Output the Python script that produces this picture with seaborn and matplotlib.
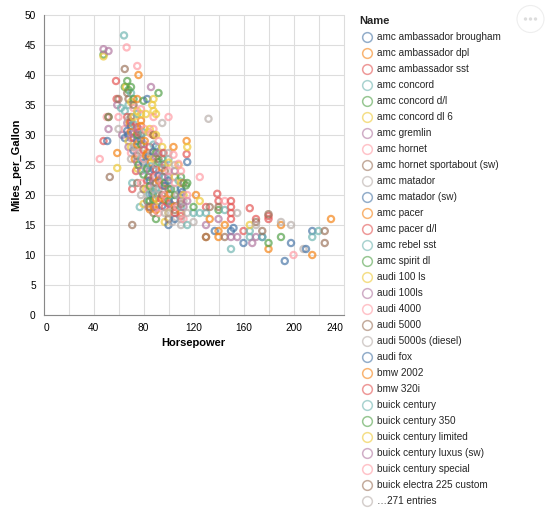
import pandas as pd
import seaborn as sns
import matplotlib
matplotlib.use('Agg')
import matplotlib.pyplot as plt
from matplotlib.lines import Line2D
from matplotlib.patches import Ellipse

# (horsepower, mpg), one list per legend colour
blue = [(215,14),(193,9),(210,11),(198,12),(160,12),(152,14.5),(150,14),(137,14),(175,13),(100,15),(105,16),
        (51,29),(83,36),(115,25.5),(110,21),(70,31.5),(67,30.7),(72,27.4),(78,29.2),(84,26.4),(88,24.3),(92,23.2),(97,21.5),
        (105,19.1),(111,20.5),(95,18.2),(87,20.2),(85,22.4),(75,29),(68,30),(90,28.1),(80,25.4),(100,22.4),(65,29.5),(88,27.2)]
orange = [(230,16),(215,10),(180,11),(190,15),(145,15),(140,13),(140,14),(133,16),(130,13),(122,20),(104,28),
          (114.5,29),(59,27),(85,17.6),(75,36),(76,40),(69,32),(70,30.5),(75,28.4),(78,31.5),(81,29),(82,26.6),(86,25.4),
          (88,18),(90,19.4),(92,22.4),(95,24.5),(97,19.2),(101,20.2),(105,18.1),(110,17),(88,30),(78,32.4),(73,26),(90,17.5),(83,27)]
red = [(180,16),(180,16.5),(170,16),(165,17.8),(160,14),(150,16),(150,17),(150,18),(150,19),(140,19),(139,20.2),
       (130,18),(114.5,26.8),(96,27),(71,21),(74,24),(48,29),(58.5,36),(58,39),(67,33),(70,32.2),(72,29.5),(76,30.5),
       (80,27.5),(85,28),(90,24.2),(94,19.4),(97,18),(100,18.6),(105,17),(110,16.5),(110,19),(95,21.6),(88,23),(83,22.4),(75,31.3)]
teal = [(220,14),(215,13),(175,13),(165,14),(165,13),(150,11),(145,17.5),(130,17),(125,17),(120,17),(64.4,46.6),
        (62,34.5),(65,34),(77,18),(71,22),(95,25.2),(100,26),(88,28.4),(80,30.4),(72,31.8),(68,35),(85,20.2),(84,19),
        (90,21),(92,20.2),(105,21),(110,18),(115,15),(70,37),(75,33.5),(82,24.2),(86,24.8),(78,26),(97,23),(108,22.4)]
green = [(190,13),(180,12),(140,17.5),(120,18),(115,22),(48,43.4),(52,33),(67,39),(92,37),(80,35.7),(70,38),
         (68,37.5),(72,36),(75,30),(78,28.4),(85,21.5),(85,19),(88,20.5),(88,19.2),(84,23),(90,27),(92,25.5),(95,26),
         (97,22),(100,19),(102,21),(105,20),(110,23),(114,21.6),(90,16),(65,38),(80,23.4),(83,24.4),(76,25)]
yellow = [(165,15),(125,19),(115,28),(108,25),(88,36),(87,35),(88,34),(82,33.5),(90,33.5),(48,43.1),(59,24.5),
          (66,38),(70,35.5),(72,33),(75,34),(78,33.5),(84,30.5),(85,31),(90,30),(95,28),(100,25.4),(105,23),(110,22),
          (112,20),(100,17),(88,26),(82,21),(75,24.4),(92,19),(97,15.5),(80,18.5),(70,28),(68,29)]
purple = [(167,12),(170,13),(155,13),(150,13),(140,16),(130,15),(48,44.3),(52,44),(52,31),(86,38),(59,35),
          (67,32),(70,29.5),(63,30),(68,28),(72,30.2),(75,25.5),(78,24),(85,24),(88,22),(90,26.4),(92,27),(95,23),
          (97,25),(100,23),(105,24),(110,20),(112,18),(115,19),(90,18),(84,18),(76,31),(80,28.5),(102,18.4)]
pink = [(200,10),(145,19),(125,23),(100,33),(104,26.7),(66.5,44.6),(75,41.5),(50.6,33),(78,34.3),(81,31),(45,26),
        (60,33),(65,31),(70,27),(72,34.5),(76,27),(80,26),(86,30.2),(88,31),(90,23),(92,29),(95,22),(97,20),
        (100,24),(105,22),(108,25.2),(110,24),(115,20),(112,16),(107,18),(92,17),(84,21),(78,22),(88,33)]
brown = [(225,14),(225,12),(180,16.8),(175,14),(170,15.5),(145,13),(140,18),(133,18),(130,13),(71,15),(53,23),
         (75,22),(65,41),(60,36),(68,36),(52,33),(67,37),(70,33),(72,35),(75,26.5),(78,30),(80,21),(88,30),
         (85,18),(88,17),(92,26),(95,20),(97,24),(100,16),(105,17.5),(110,18.5),(112,22),(90,22),(83,19),(100,21)]
gray = [(132,32.7),(208,11),(198,15),(190,15.5),(170,15),(155,17),(120,15.5),(110,15),(110,16),(100,17),(95,32),
        (68,32.5),(70,26),(74,28),(60,31),(78,27),(82,25),(86,27),(90,25),(92,21),(95,27),(100,27),(105,25),
        (107,20),(112,19),(115,17),(90,20),(84,20),(78,20),(88,21),(72,28),(97,17),(103,15.5)]

color_groups = [blue, orange, red, teal, green, yellow, purple, pink, brown, gray]
tableau10 = ['#4c78a8', '#f58518', '#e45756', '#72b7b2', '#54a24b',
             '#eeca3b', '#b279a2', '#ff9da6', '#9d755d', '#bab0ac']

legend_names = ['amc ambassador brougham', 'amc ambassador dpl', 'amc ambassador sst', 'amc concord',
                'amc concord d/l', 'amc concord dl 6', 'amc gremlin', 'amc hornet',
                'amc hornet sportabout (sw)', 'amc matador', 'amc matador (sw)', 'amc pacer',
                'amc pacer d/l', 'amc rebel sst', 'amc spirit dl', 'audi 100 ls', 'audi 100ls',
                'audi 4000', 'audi 5000', 'audi 5000s (diesel)', 'audi fox', 'bmw 2002', 'bmw 320i',
                'buick century', 'buick century 350', 'buick century limited', 'buick century luxus (sw)',
                'buick century special', 'buick electra 225 custom', '\u2026271 entries']

x_ticks = [0, 20, 40, 60, 80, 100, 120, 140, 160, 180, 200, 220, 240]
x_labels = ['0', '', '40', '', '80', '', '120', '', '160', '', '200', '', '240']
y_ticks = [0, 5, 10, 15, 20, 25, 30, 35, 40, 45, 50]

rows = []
for i, group in enumerate(color_groups):
    for hp, mpg in group:
        rows.append({'Horsepower': hp, 'Miles_per_Gallon': mpg, 'group': i})
df = pd.DataFrame(rows).sort_values('Horsepower', kind='stable')

sns.set_theme(style='white')
plt.rcParams['font.family'] = ['Liberation Sans', 'DejaVu Sans']

W, H = 558, 519
fig = plt.figure(figsize=(W / 100, H / 100), dpi=100)
ax = fig.add_axes([43.5 / W, (H - 315) / H, 300 / W, 300 / H])

sns.scatterplot(data=df, x='Horsepower', y='Miles_per_Gallon', hue='group', palette=tableau10,
                s=20, linewidth=1.6, alpha=0.7, legend=False, ax=ax, clip_on=False, zorder=3)
pts = ax.collections[0]
pts.set_edgecolors(pts.get_facecolors())
pts.set_facecolors('none')

ax.set_xlim(0, 240)
ax.set_ylim(0, 50)
ax.set_xticks(x_ticks)
ax.set_xticklabels(x_labels)
ax.set_yticks(y_ticks)
ax.grid(True, color='#dddddd', lw=0.8, clip_on=False)
ax.set_axisbelow(True)
sns.despine(ax=ax)
for s in ['left', 'bottom']:
    ax.spines[s].set_color('#888888')
    ax.spines[s].set_linewidth(0.8)
ax.tick_params(axis='both', length=3.6, width=0.8, color='#888888', labelsize=7.3, labelcolor='black', pad=2)
labels = ax.get_xticklabels()
labels[0].set_ha('left')
labels[-1].set_ha('right')
ax.set_xlabel('Horsepower', fontsize=8, fontweight='bold', color='black', labelpad=3.5)
ax.set_ylabel('Miles_per_Gallon', fontsize=8, fontweight='bold', color='black', labelpad=2)

handles = []
for i, name in enumerate(legend_names):
    handles.append(Line2D([], [], ls='', marker='o', ms=7, mfc='none', mew=1.1,
                          mec=tableau10[i % 10], alpha=0.6, label=name))
leg = fig.legend(handles=handles, title='Name', loc='upper left', bbox_to_anchor=(355 / W, 1 - 12 / H),
                 frameon=False, fontsize=7.2, labelspacing=0.6, handletextpad=0.2, handlelength=1.6,
                 borderpad=0.4, borderaxespad=0, alignment='left',
                 title_fontproperties={'weight': 'bold', 'size': 8, 'family': 'Liberation Sans'})

# the faint menu button in the top right corner
fig.add_artist(Ellipse((530.5 / W, 1 - 19 / H), 27 / W, 27 / H, transform=fig.transFigure,
                       fc='white', ec='#eeeeee', lw=0.8))
for dx in [-5, 0, 5]:
    fig.add_artist(Ellipse(((530.5 + dx) / W, 1 - 19 / H), 3.4 / W, 3.4 / H, transform=fig.transFigure,
                           fc='#dddddd', ec='none'))

fig.savefig('out.png', dpi=100)
